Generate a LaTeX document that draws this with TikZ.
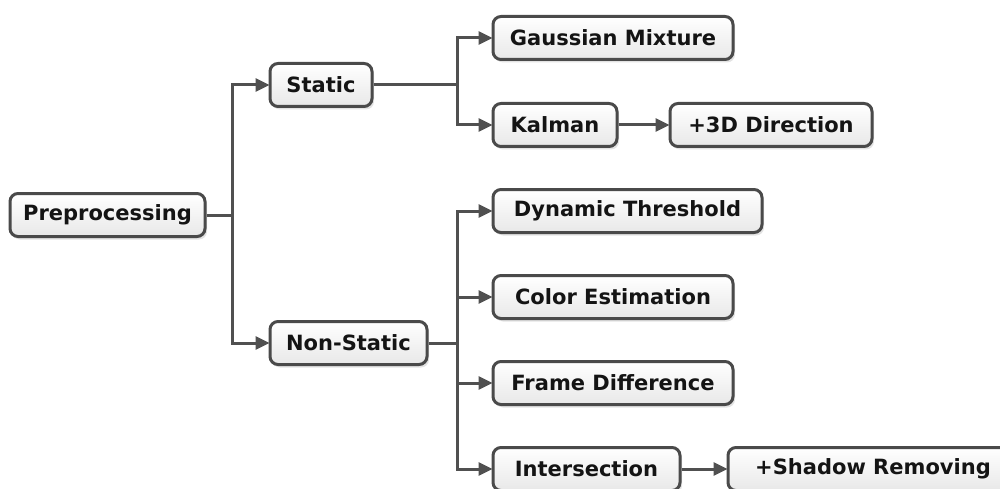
\documentclass[tikz,border=0pt]{standalone}
\usepackage{fontspec}
\setmainfont{DejaVu Sans}
\usetikzlibrary{arrows.meta,shadows}
\definecolor{edgegray}{HTML}{4A4A4A}
\definecolor{linegray}{HTML}{505050}
\definecolor{txt}{HTML}{141414}
\tikzset{
  box/.style={draw=edgegray, line width=3pt, rounded corners=8pt,
    top color=white, bottom color=black!9,
    drop shadow={opacity=0.22, shadow xshift=2pt, shadow yshift=-3pt},
    minimum height=43pt, inner sep=0pt, text=txt,
    font=\fontsize{21}{22}\selectfont\bfseries},
  link/.style={draw=linegray, line width=3pt},
  arr/.style={link, -{Triangle[length=14pt,width=13pt]}, shorten >=-1pt},
}
\begin{document}
\begin{tikzpicture}[x=1pt,y=-1pt]
  \useasboundingbox (0,0) rectangle (1000,489);
  \clip (0,0) rectangle (1000,489);

  % nodes
  \node[box, minimum width=195pt] (pre)   at (107.5,215) {Preprocessing};
  \node[box, minimum width=102pt] (stat)  at (321,85)    {Static};
  \node[box, minimum width=157pt] (nstat) at (348.5,343) {Non-Static};
  \node[box, minimum width=240pt] (gm)    at (613,38)    {Gaussian Mixture};
  \node[box, minimum width=124pt] (kal)   at (555,125)   {Kalman};
  \node[box, minimum width=202pt] (dir)   at (771,125)   {+3D Direction};
  \node[box, minimum width=269pt] (dyn)   at (627.5,211) {Dynamic Threshold};
  \node[box, minimum width=240pt] (col)   at (613,297)   {Color Estimation};
  \node[box, minimum width=240pt] (fd)    at (613,383)   {Frame Difference};
  \node[box, minimum width=187pt] (inter) at (586.5,469) {Intersection};
  \node[box, minimum width=290pt] (shad)  at (873,469)   {+Shadow Removing};

  % branching points
  \coordinate (j0) at (232,215);
  \coordinate (j1) at (457,85);
  \coordinate (j2) at (457,343);

  % connectors
  \draw[link] (pre.east) -- (j0);
  \draw[arr] (j0) |- (stat.west);
  \draw[arr] (j0) |- (nstat.west);

  \draw[link] (stat.east) -- (j1);
  \draw[arr] (j1) |- (gm.west);
  \draw[arr] (j1) |- (kal.west);

  \draw[link] (nstat.east) -- (j2);
  \draw[arr] (j2) |- (dyn.west);
  \draw[arr] (j2) |- (col.west);
  \draw[arr] (j2) |- (fd.west);
  \draw[arr] (j2) |- (inter.west);

  \draw[arr] (kal.east) -- (dir.west);
  \draw[arr] (inter.east) -- (shad.west);
\end{tikzpicture}
\end{document}
